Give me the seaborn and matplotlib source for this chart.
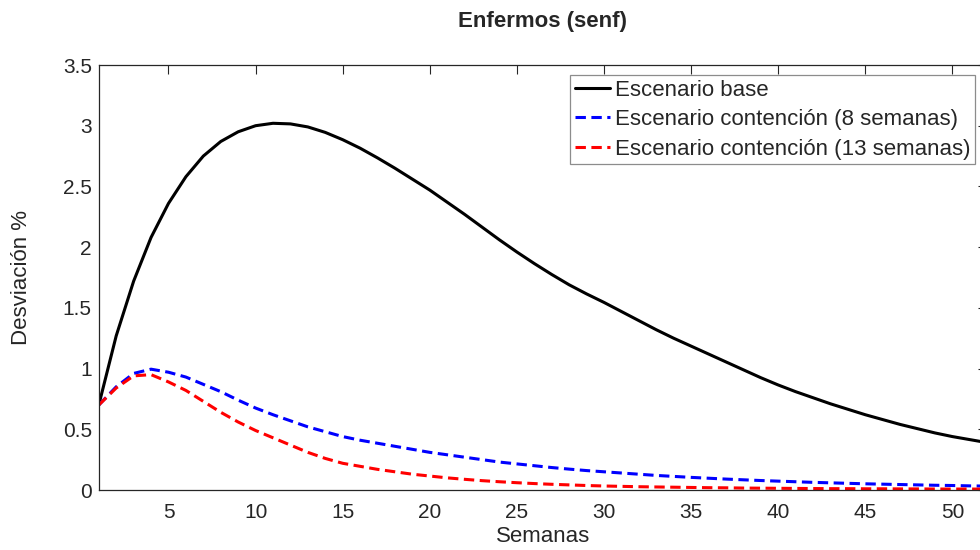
import numpy as np
import pandas as pd
import matplotlib
matplotlib.use("Agg")
import matplotlib.pyplot as plt
import seaborn as sns

# Semanas 1..52
semanas = list(range(1, 53))

base = [0.70, 1.27, 1.72, 2.08, 2.36, 2.58, 2.75, 2.87, 2.95, 3.00,
        3.02, 3.015, 2.99, 2.945, 2.885, 2.815, 2.735, 2.65, 2.56, 2.47,
        2.37, 2.27, 2.165, 2.06, 1.96, 1.865, 1.775, 1.69, 1.615, 1.545,
        1.47, 1.395, 1.32, 1.25, 1.185, 1.12, 1.055, 0.99, 0.925, 0.865,
        0.81, 0.76, 0.71, 0.665, 0.62, 0.58, 0.54, 0.505, 0.47, 0.44,
        0.415, 0.39]

cont8 = [0.70, 0.85, 0.96, 0.995, 0.97, 0.93, 0.87, 0.81, 0.74, 0.675,
         0.62, 0.57, 0.52, 0.48, 0.44, 0.41, 0.385, 0.36, 0.335, 0.31,
         0.29, 0.27, 0.25, 0.23, 0.215, 0.20, 0.185, 0.172, 0.16, 0.15,
         0.14, 0.13, 0.12, 0.112, 0.104, 0.097, 0.09, 0.084, 0.078, 0.073,
         0.068, 0.063, 0.059, 0.055, 0.051, 0.048, 0.045, 0.042, 0.039, 0.037,
         0.034, 0.032]

cont13 = [0.70, 0.84, 0.94, 0.95, 0.89, 0.82, 0.73, 0.64, 0.56, 0.49,
          0.43, 0.37, 0.31, 0.26, 0.22, 0.195, 0.17, 0.15, 0.13, 0.115,
          0.10, 0.088, 0.077, 0.068, 0.06, 0.053, 0.047, 0.042, 0.037, 0.033,
          0.030, 0.027, 0.025, 0.023, 0.021, 0.019, 0.018, 0.016, 0.015, 0.014,
          0.013, 0.012, 0.011, 0.011, 0.010, 0.010, 0.009, 0.009, 0.008, 0.008,
          0.008, 0.007]

escenarios = ["Escenario base",
              "Escenario contención (8 semanas)",
              "Escenario contención (13 semanas)"]
colores = ["black", "blue", "red"]

df = pd.concat([
    pd.DataFrame({"Semanas": semanas, "valor": v, "escenario": e})
    for v, e in zip([base, cont8, cont13], escenarios)
])

sns.set_style("white")
plt.rcParams["font.family"] = ["Liberation Sans", "DejaVu Sans"]
gris = "#262626"

fig = plt.figure(figsize=(9.8, 5.5), dpi=100)
ax = fig.add_axes([98.8 / 980, 60 / 550, 888.4 / 980, 425 / 550])

sns.lineplot(data=df, x="Semanas", y="valor", hue="escenario", style="escenario",
             palette=dict(zip(escenarios, colores)),
             dashes={escenarios[0]: "", escenarios[1]: (3.4, 1.8), escenarios[2]: (3.4, 1.8)},
             linewidth=2.2, ax=ax)

ax.set_xlim(1, 52)
ax.set_ylim(0, 3.5)
ax.set_xticks(range(5, 51, 5))
ax.set_yticks(np.arange(0, 3.51, 0.5))
ax.set_yticklabels(["0", "0.5", "1", "1.5", "2", "2.5", "3", "3.5"])
ax.tick_params(direction="in", length=6.5, width=0.8, top=True, right=True,
               labelsize=15, colors=gris, labelcolor=gris)
ax.tick_params(axis="x", pad=9)
ax.tick_params(axis="y", pad=5)
for s in ax.spines.values():
    s.set_color(gris)
    s.set_linewidth(0.9)

ax.set_xlabel("Semanas", fontsize=16, color=gris, labelpad=3)
ax.set_ylabel("Desviación %", fontsize=16, color=gris, labelpad=22)
ax.set_title("Enfermos (senf)", fontsize=16, fontweight="bold", pad=27)

leg = ax.legend(loc="upper right", bbox_to_anchor=(0.986, 0.976), borderaxespad=0,
                fontsize=16, frameon=True, fancybox=False, handlelength=1.6,
                handletextpad=0.2, borderpad=0.2, labelspacing=0.38)
leg.get_frame().set_edgecolor("#8c8c8c")
leg.get_frame().set_linewidth(0.9)
leg.get_frame().set_alpha(1)

fig.savefig("out.png", dpi=100)
